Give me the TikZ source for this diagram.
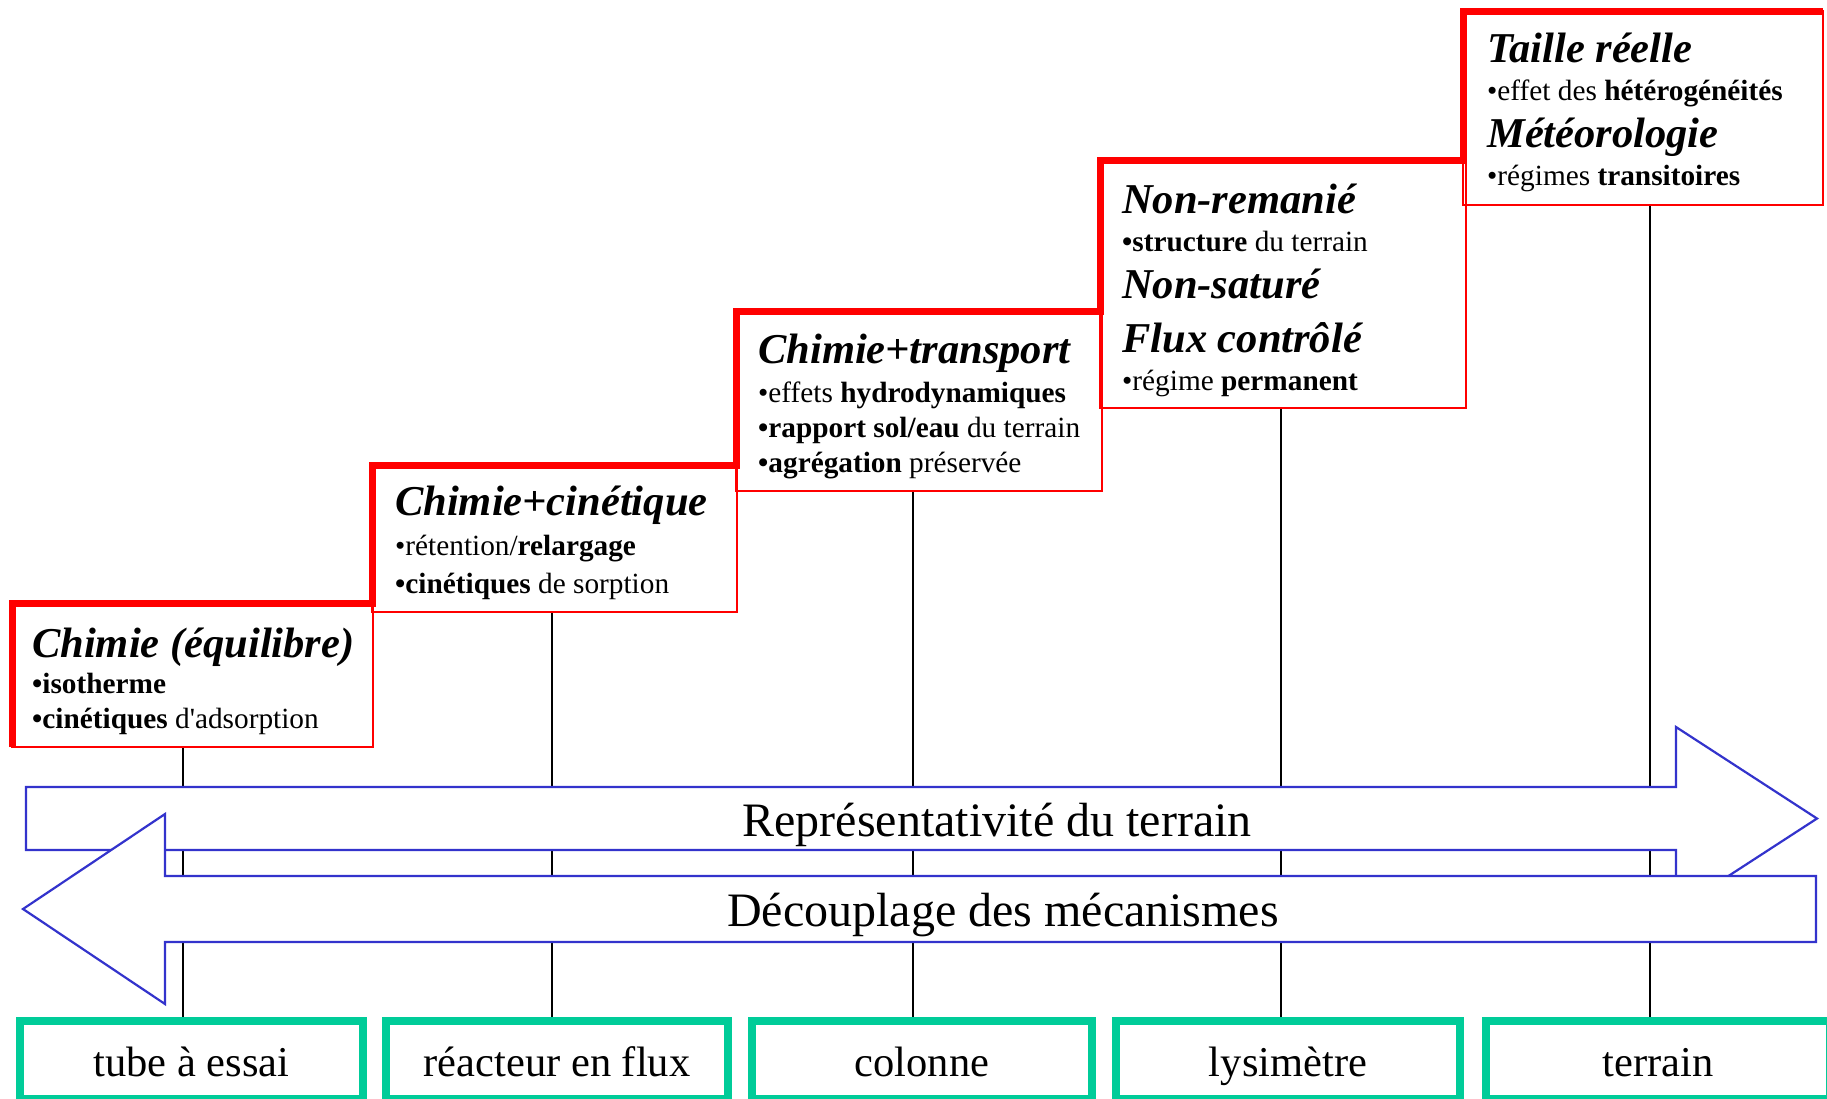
\documentclass[tikz,border=0pt]{standalone}
\usepackage{fontspec}
\setmainfont{Liberation Serif}
\usetikzlibrary{backgrounds}
\definecolor{redc}{RGB}{255,0,0}
\definecolor{bluec}{RGB}{51,51,204}
\definecolor{greenc}{RGB}{0,204,153}
\begin{document}
\begin{tikzpicture}[x=1pt,y=-1pt,
  rbox/.style={draw=redc, line width=2.5pt, inner sep=0pt, outer sep=0pt, anchor=north west},
  stair/.style={draw=redc, line width=7pt, line join=miter},
  conn/.style={draw=black, line width=2pt},
  gbox/.style={draw=greenc, line width=8pt, inner sep=0pt, outer sep=0pt, minimum height=78pt},
  bigarrow/.style={draw=bluec, fill=white, line width=2.2pt, line join=miter},
  headtxt/.style={font=\fontsize{42.5}{50}\selectfont\bfseries\itshape, anchor=base west, inner sep=0pt},
  itemtxt/.style={font=\fontsize{29.3}{35}\selectfont, anchor=base west, inner sep=0pt},
  bigtxt/.style={font=\fontsize{48}{56}\selectfont, anchor=base, inner sep=0pt},
  gtxt/.style={font=\fontsize{42.5}{50}\selectfont, anchor=base, inner sep=0pt}]
\useasboundingbox (0,0) rectangle (1827,1098);

% red boxes
\node[rbox, minimum width=361pt, minimum height=144pt] (b1) at (12,603) {};
\node[rbox, minimum width=365pt, minimum height=147pt] (b2) at (372,465) {};
\node[rbox, minimum width=366pt, minimum height=180pt] (b3) at (736,311) {};
\node[rbox, minimum width=366pt, minimum height=248pt] (b4) at (1100,160) {};
\node[rbox, minimum width=360pt, minimum height=194pt] (b5) at (1463,11) {};

% thick staircase
\draw[stair] (b1.south west) -- (b1.north west) -- (b2.north west |- b1.north)
  -- (b2.north west) -- (b3.north west |- b2.north)
  -- (b3.north west) -- (b4.north west |- b3.north)
  -- (b4.north west) -- (b5.north west |- b4.north)
  -- (b5.north west) -- (b5.north east);

% texts box 1
\node[headtxt] (h1) at (32,657) {Chimie (équilibre)};
\node[itemtxt] (i11) at (32,693) {\textbf{•isotherme}};
\node[itemtxt] (i12) at (32,728) {\textbf{•cinétiques} d\textquotesingle adsorption};
% box 2
\node[headtxt] (h2) at (395,515) {Chimie+cinétique};
\node[itemtxt] (i21) at (395,555) {•rétention/\textbf{relargage}};
\node[itemtxt] (i22) at (395,593) {\textbf{•cinétiques} de sorption};
% box 3
\node[headtxt] (h3) at (758,363) {Chimie+transport};
\node[itemtxt] (i31) at (758,402) {•effets \textbf{hydrodynamiques}};
\node[itemtxt] (i32) at (758,437) {\textbf{•rapport sol/eau} du terrain};
\node[itemtxt] (i33) at (758,472) {\textbf{•agrégation} préservée};
% box 4
\node[headtxt] (h4) at (1122,213) {Non-remanié};
\node[itemtxt] (i41) at (1122,251) {\textbf{•structure} du terrain};
\node[headtxt] (h4b) at (1122,298) {Non-saturé};
\node[headtxt] (h4c) at (1122,352) {Flux contrôlé};
\node[itemtxt] (i42) at (1122,390) {•régime \textbf{permanent}};
% box 5
\node[headtxt] (h5) at (1487,62) {Taille réelle};
\node[itemtxt] (i51) at (1487,100) {•effet des \textbf{hétérogénéités}};
\node[headtxt] (h5b) at (1487,147) {Météorologie};
\node[itemtxt] (i52) at (1487,185) {•régimes \textbf{transitoires}};

% green boxes
\node[gbox, minimum width=343pt] (g1) at (191.5,1060) {};
\node[gbox, minimum width=342pt] (g2) at (557,1060) {};
\node[gbox, minimum width=340pt] (g3) at (922,1060) {};
\node[gbox, minimum width=344pt] (g4) at (1288,1060) {};
\node[gbox, minimum width=344pt] (g5) at (1658,1060) {};
\node[gtxt] (t1) at (191.5,1076) {tube à essai};
\node[gtxt] (t2) at (557,1076) {réacteur en flux};
\node[gtxt] (t3) at (922,1076) {colonne};
\node[gtxt] (t4) at (1288,1076) {lysimètre};
\node[gtxt] (t5) at (1658,1076) {terrain};

% vertical connectors (behind)
\coordinate (x1) at (183,0);
\coordinate (x2) at (552,0);
\coordinate (x3) at (913,0);
\coordinate (x4) at (1281,0);
\coordinate (x5) at (1650,0);
\begin{scope}[on background layer]
\draw[conn] (b1.south -| x1) -- (g1.north -| x1);
\draw[conn] (b2.south -| x2) -- (g2.north -| x2);
\draw[conn] (b3.south -| x3) -- (g3.north -| x3);
\draw[conn] (b4.south -| x4) -- (g4.north -| x4);
\draw[conn] (b5.south -| x5) -- (g5.north -| x5);
\end{scope}

% right arrow
\draw[bigarrow] (26,787) -- (1676,787) -- (1676,727) -- (1817,818.5) -- (1676,910) -- (1676,850) -- (26,850) -- cycle;
\node[bigtxt] (a1) at (997,836) {Représentativité du terrain};
% left arrow
\draw[bigarrow] (1816,876) -- (165,876) -- (165,814) -- (23,909) -- (165,1004) -- (165,942) -- (1816,942) -- cycle;
\node[bigtxt] (a2) at (1003,926) {Découplage des mécanismes};
\end{tikzpicture}
\end{document}
